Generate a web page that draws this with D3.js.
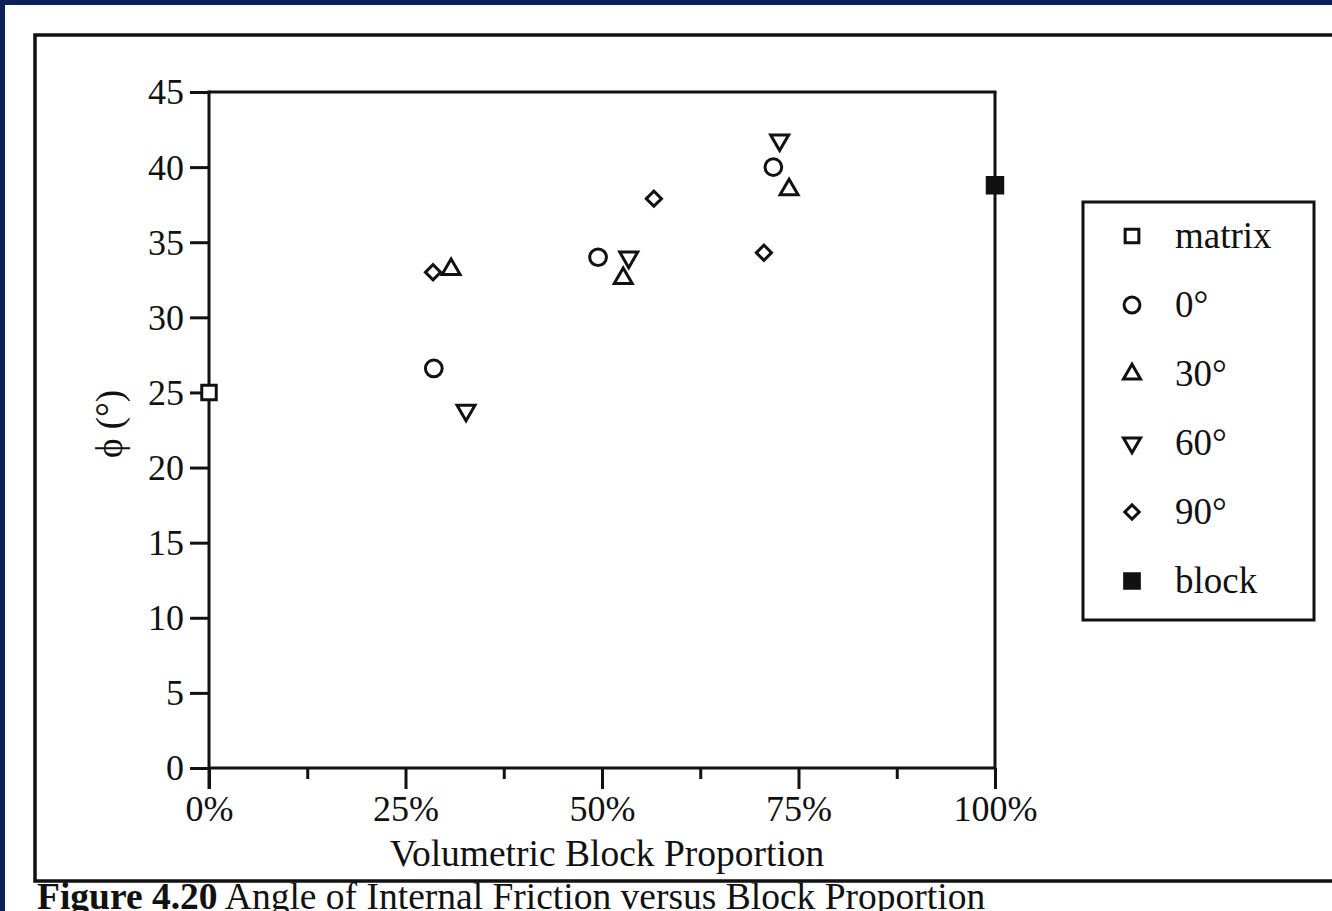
<!DOCTYPE html>
<html><head><meta charset="utf-8">
<script src="https://cdn.jsdelivr.net/npm/d3@7"></script>
<style>
html,body{margin:0;padding:0;background:#fff;}
svg{display:block;}
text{font-family:"Liberation Serif","Times New Roman",serif;fill:#111;}
</style></head>
<body>
<svg id="chart" width="1332" height="911"></svg>
<script>
// ---- data ----
const seriesNames = ["matrix", "0°", "30°", "60°", "90°", "block"];
const matrixX = [0],              matrixY = [25.0];
const deg0X   = [28.6, 49.5, 71.8], deg0Y  = [26.6, 34.0, 40.0];
const deg30X  = [30.8, 52.7, 73.8], deg30Y = [33.2, 32.6, 38.5];
const deg60X  = [32.7, 53.4, 72.6], deg60Y = [23.8, 34.0, 41.8];
const deg90X  = [28.5, 56.6, 70.6], deg90Y = [33.0, 37.9, 34.3];
const blockX  = [100],            blockY  = [38.8];
const yTicks = [0, 5, 10, 15, 20, 25, 30, 35, 40, 45];
const xMajorTicks = [0, 25, 50, 75, 100];
const xMinorTicks = [12.5, 37.5, 62.5, 87.5];
const xLabel = "Volumetric Block Proportion";
const yLabel = "\u03D5 (°)";
const captionBold = "Figure 4.20";
const captionRest = " Angle of Internal Friction versus Block Proportion";

// ---- layout ----
const svg = d3.select("#chart");
const L = 209, R = 995, T = 92, B = 768;
const x = d3.scaleLinear().domain([0, 100]).range([L, R]);
const y = d3.scaleLinear().domain([0, 45]).range([B, T]);
const ink = "#111";

// page frame: navy top/left border
svg.append("rect").attr("x",0).attr("y",0).attr("width",1332).attr("height",5).attr("fill","#0f1f5a");
svg.append("rect").attr("x",0).attr("y",0).attr("width",5).attr("height",911).attr("fill","#0f1f5a");
// outer figure box
svg.append("path").attr("d","M1332,35 H35 V881 H1332")
  .attr("fill","none").attr("stroke",ink).attr("stroke-width",3.5);

// plot box top/right
svg.append("line").attr("x1",x(0)).attr("x2",x(100)+1.5).attr("y1",y(45)).attr("y2",y(45))
  .attr("stroke",ink).attr("stroke-width",3);
svg.append("line").attr("x1",x(100)).attr("x2",x(100)).attr("y1",y(45)).attr("y2",y(0))
  .attr("stroke",ink).attr("stroke-width",3);

// y axis
const yAxis = d3.axisLeft(y).tickValues(yTicks).tickSize(19).tickPadding(6).tickFormat(d3.format("d"));
const gy = svg.append("g").attr("transform",`translate(${L},0)`).call(yAxis);
gy.select(".domain").remove();
gy.append("line").attr("x1",0).attr("x2",0).attr("y1",y(45)-1.5).attr("y2",y(0)+21)
  .attr("stroke",ink).attr("stroke-width",3);
gy.selectAll(".tick line").attr("stroke",ink).attr("stroke-width",3);
gy.selectAll(".tick text").attr("font-size",36).attr("fill",ink)
  .attr("font-family","'Liberation Serif',serif").attr("dy","0.33em");

// x axis
const xAxis = d3.axisBottom(x).tickValues(xMajorTicks).tickSize(21).tickPadding(6)
  .tickFormat(d => d + "%");
const gx = svg.append("g").attr("transform",`translate(0,${B})`).call(xAxis);
gx.select(".domain").remove();
gx.append("line").attr("x1",x(0)).attr("x2",x(100)).attr("y1",0).attr("y2",0)
  .attr("stroke",ink).attr("stroke-width",3);
gx.selectAll(".tick line").attr("stroke",ink).attr("stroke-width",3);
gx.selectAll(".tick text").attr("font-size",36).attr("fill",ink)
  .attr("font-family","'Liberation Serif',serif").attr("dy","0.72em");
const xMinor = d3.axisBottom(x).tickValues(xMinorTicks).tickSize(11).tickFormat("");
const gxm = svg.append("g").attr("transform",`translate(0,${B})`).call(xMinor);
gxm.select(".domain").remove();
gxm.selectAll(".tick line").attr("stroke",ink).attr("stroke-width",3);

// axis labels
svg.append("text").attr("x",607).attr("y",866).attr("text-anchor","middle")
  .attr("font-size",37.5).text(xLabel);
svg.append("text").attr("transform","translate(122,424) rotate(-90)").attr("text-anchor","middle")
  .attr("font-size",37).text(yLabel);

// caption
const cap = svg.append("text").attr("x",37).attr("y",909).attr("font-size",37.5);
cap.append("tspan").attr("font-weight","bold").text(captionBold);
cap.append("tspan").text(captionRest);

// ---- markers ----
const shapes = {
  "matrix": {sym: d3.symbolSquare, size: 210, rot: 0, fill: "#fff"},
  "0°":     {sym: d3.symbolCircle, size: 220, rot: 0, fill: "#fff"},
  "30°":    {sym: d3.symbolTriangle, size: 140, rot: 0, fill: "#fff"},
  "60°":    {sym: d3.symbolTriangle, size: 140, rot: 180, fill: "#fff"},
  "90°":    {sym: d3.symbolSquare, size: 115, rot: 45, fill: "#fff"},
  "block":  {sym: d3.symbolSquare, size: 240, rot: 0, fill: ink}
};
const seriesData = [
  ["matrix", matrixX, matrixY],
  ["0°", deg0X, deg0Y],
  ["30°", deg30X, deg30Y],
  ["60°", deg60X, deg60Y],
  ["90°", deg90X, deg90Y],
  ["block", blockX, blockY]
];
function drawMarker(g, name, cx, cy) {
  const s = shapes[name];
  g.append("path")
    .attr("d", d3.symbol().type(s.sym).size(s.size)())
    .attr("transform", `translate(${cx},${cy}) rotate(${s.rot})`)
    .attr("fill", s.fill).attr("stroke", ink).attr("stroke-width", 3);
}
const gm = svg.append("g");
seriesData.forEach(([name, xs, ys]) => {
  xs.forEach((v, i) => drawMarker(gm, name, x(v), y(ys[i])));
});

// ---- legend ----
svg.append("rect").attr("x",1083).attr("y",202).attr("width",231).attr("height",418)
  .attr("fill","none").attr("stroke",ink).attr("stroke-width",3);
const lg = svg.append("g");
seriesNames.forEach((name, i) => {
  const cy = 236 + i * 69;
  const s = shapes[name];
  lg.append("path")
    .attr("d", d3.symbol().type(s.sym).size(s.size * 0.9)())
    .attr("transform", `translate(1132,${cy}) rotate(${s.rot})`)
    .attr("fill", s.fill).attr("stroke", ink).attr("stroke-width", 3);
  lg.append("text").attr("x",1175).attr("y",cy).attr("dy","0.33em")
    .attr("font-size",37).text(name);
});
</script>
</body></html>
